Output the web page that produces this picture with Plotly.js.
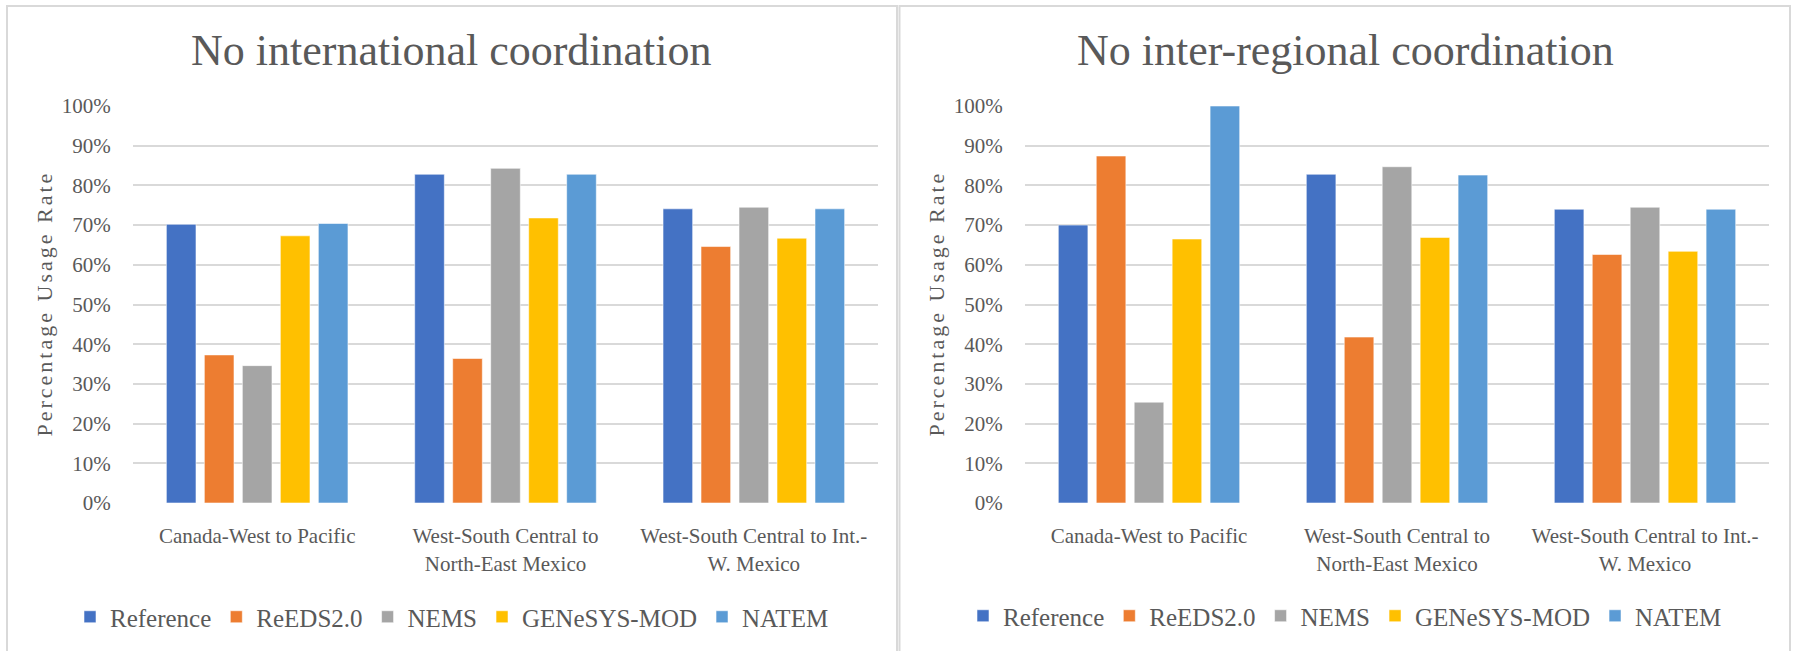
<!DOCTYPE html>
<html>
<head>
<meta charset="utf-8">
<script src="https://cdn.plot.ly/plotly-3.0.1.min.js"></script>
<style>
  html, body { margin: 0; padding: 0; background: #ffffff; }
  #chart { width: 1795px; height: 651px; }
  /* spaced-out lettering for the vertical axis captions */
  .annotation[data-index="2"] text, .annotation[data-index="3"] text { letter-spacing: 3px; }
</style>
</head>
<body>
<div id="chart"></div>
<script>
// Interconnection usage rates by model, for two coordination scenarios
const categories = [
  "Canada-West to Pacific",
  "West-South Central to<br>North-East Mexico",
  "West-South Central to Int.-<br>W. Mexico"
];
const seriesNames = ["Reference", "ReEDS2.0", "NEMS", "GENeSYS-MOD", "NATEM"];
const seriesColors = ["#4472C4", "#ED7D31", "#A5A5A5", "#FFC000", "#5B9BD5"];

// No international coordination
const intlReference = [0.702, 0.828, 0.741];
const intlReEDS     = [0.373, 0.364, 0.646];
const intlNEMS      = [0.346, 0.843, 0.745];
const intlGENeSYS   = [0.673, 0.718, 0.667];
const intlNATEM     = [0.704, 0.828, 0.741];

// No inter-regional coordination
const regReference = [0.700, 0.828, 0.740];
const regReEDS     = [0.874, 0.418, 0.626];
const regNEMS      = [0.254, 0.847, 0.745];
const regGENeSYS   = [0.665, 0.669, 0.634];
const regNATEM     = [1.000, 0.826, 0.740];

const panelTitles = ["No international coordination", "No inter-regional coordination"];
const yAxisTitle = "Percentage Usage Rate";

const intlSeries = [intlReference, intlReEDS, intlNEMS, intlGENeSYS, intlNATEM];
const regSeries  = [regReference, regReEDS, regNEMS, regGENeSYS, regNATEM];

const W = 1795, H = 651;
const px = x => x / W;
const py = y => 1 - y / H;

const textColor = "#595959";
const serif = "'Liberation Serif', 'DejaVu Serif', serif";
const gridColor = "#d9d9d9";

const traces = [];
[[intlSeries, "x", "y", "legend"], [regSeries, "x2", "y2", "legend2"]].forEach(([set, xa, ya, lg]) => {
  set.forEach((vals, i) => {
    traces.push({
      type: "bar",
      name: seriesNames[i],
      x: categories,
      y: vals,
      xaxis: xa,
      yaxis: ya,
      legend: lg,
      marker: { color: seriesColors[i], line: { color: "rgba(255,255,255,0.55)", width: 1 } },
      hovertemplate: "%{y:.1%}<extra>" + seriesNames[i] + "</extra>"
    });
  });
});

const yBase = {
  range: [0, 1],
  dtick: 0.1,
  tick0: 0,
  tickformat: ".0%",
  showgrid: true,
  gridcolor: gridColor,
  gridwidth: 2,
  zeroline: false,
  showline: false,
  ticks: "outside",
  ticklen: 17,
  tickcolor: "rgba(0,0,0,0)",
  tickfont: { family: serif, size: 21, color: textColor },
  domain: [py(503), py(106)],
  fixedrange: true
};
const xBase = {
  type: "category",
  showgrid: false,
  zeroline: false,
  showline: false,
  ticks: "outside",
  ticklen: 14,
  tickcolor: "rgba(0,0,0,0)",
  tickfont: { family: serif, size: 21, color: textColor },
  fixedrange: true
};
const legendBase = {
  orientation: "h",
  xanchor: "center",
  yanchor: "middle",
  font: { family: serif, size: 25, color: textColor },
  bgcolor: "rgba(0,0,0,0)",
  traceorder: "normal"
};

const layout = {
  width: W,
  height: H,
  margin: { l: 0, r: 0, t: 0, b: 0 },
  paper_bgcolor: "#ffffff",
  plot_bgcolor: "#ffffff",
  font: { family: serif, color: textColor },
  barmode: "group",
  bargap: 0.235,
  bargroupgap: 0.22,
  showlegend: true,
  xaxis:  Object.assign({}, xBase, { domain: [px(133), px(878)], anchor: "y" }),
  yaxis:  Object.assign({}, yBase, { anchor: "x" }),
  xaxis2: Object.assign({}, xBase, { domain: [px(1025), px(1769)], anchor: "y2" }),
  yaxis2: Object.assign({}, yBase, { anchor: "x2" }),
  legend:  Object.assign({}, legendBase, { x: px(452), y: py(617) }),
  legend2: Object.assign({}, legendBase, { x: px(1345), y: py(616) }),
  annotations: [
    { text: panelTitles[0], xref: "paper", yref: "paper", x: px(451), y: py(51),
      xanchor: "center", yanchor: "middle", showarrow: false,
      font: { family: serif, size: 44, color: textColor } },
    { text: panelTitles[1], xref: "paper", yref: "paper", x: px(1345), y: py(51),
      xanchor: "center", yanchor: "middle", showarrow: false,
      font: { family: serif, size: 44, color: textColor } },
    { text: yAxisTitle, xref: "paper", yref: "paper", x: px(44), y: py(304),
      xanchor: "center", yanchor: "middle", showarrow: false, textangle: -90,
      font: { family: serif, size: 22, color: textColor } },
    { text: yAxisTitle, xref: "paper", yref: "paper", x: px(936), y: py(304),
      xanchor: "center", yanchor: "middle", showarrow: false, textangle: -90,
      font: { family: serif, size: 22, color: textColor } }
  ],
  shapes: [
    { type: "rect", xref: "paper", yref: "paper", x0: px(7), x1: px(897), y0: py(660), y1: py(6),
      line: { color: gridColor, width: 2 }, fillcolor: "rgba(0,0,0,0)", layer: "below" },
    { type: "rect", xref: "paper", yref: "paper", x0: px(899.5), x1: px(1790), y0: py(660), y1: py(6),
      line: { color: gridColor, width: 2 }, fillcolor: "rgba(0,0,0,0)", layer: "below" }
  ]
};

Plotly.newPlot("chart", traces, layout, { displayModeBar: false, staticPlot: true });
</script>
</body>
</html>
